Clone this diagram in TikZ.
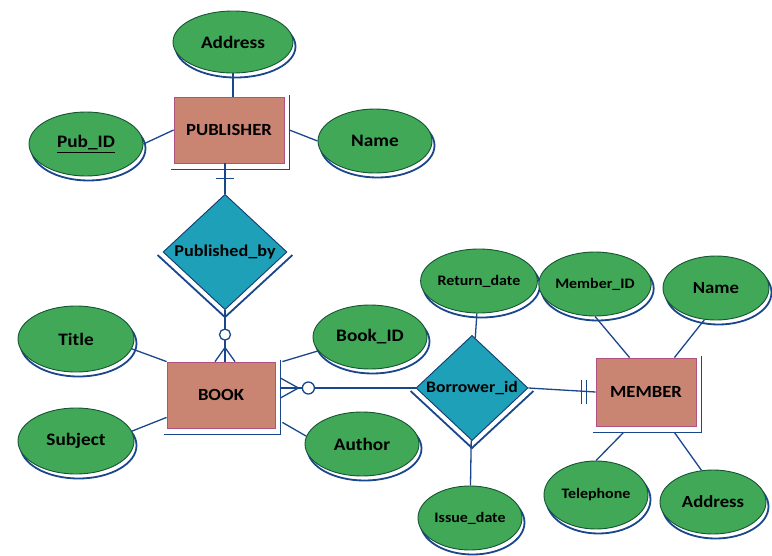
\documentclass[tikz,border=0pt]{standalone}
\usepackage{fontspec}
\setmainfont{Carlito}[FakeStretch=1.1]
\usepackage{xcolor}
\usetikzlibrary{shapes.geometric, calc}

\definecolor{attrgreen}{RGB}{64,168,86}
\definecolor{attrline}{RGB}{22,84,52}
\definecolor{entfill}{RGB}{201,132,114}
\definecolor{entline}{RGB}{176,82,128}
\definecolor{relfill}{RGB}{30,160,184}
\definecolor{linkblue}{RGB}{26,70,140}

\begin{document}
\begin{tikzpicture}[
    x=1pt, y=-1pt,
    link/.style={draw=linkblue, line width=1.3pt},
    shadowline/.style={draw=linkblue, line width=1.8pt},
    attr/.style={ellipse, draw=attrline, line width=0.9pt, fill=attrgreen, inner sep=0pt,
        minimum width=114pt, minimum height=64pt, font=\bfseries\fontsize{17.5}{17.5}\selectfont,
        preaction={draw=linkblue, line width=1.8pt, fill=white, transform canvas={shift={(2.5pt,-4.5pt)}}}},
    small/.style={minimum width=104pt, font=\bfseries\fontsize{14.5}{14.5}\selectfont},
    entity/.style={rectangle, draw=entline, line width=0.8pt, fill=entfill, inner sep=0pt,
        font=\bfseries\fontsize{17}{17}\selectfont},
    rel/.style={diamond, draw=linkblue!80!black, line width=0.9pt, fill=relfill, inner sep=0pt,
        font=\bfseries\fontsize{16}{16}\selectfont}
]
    \useasboundingbox (0,0) rectangle (772,555);

    % Publisher side
    \node[entity, minimum width=110pt, minimum height=66pt] (pub) at (229,130) {PUBLISHER};
    \node[attr, minimum width=120pt, minimum height=62pt] (addr) at (233,42) {Address};
    \node[attr] (pubid) at (86,144) {\underline{Pub\_ID}};
    \node[attr] (pname) at (375,141) {Name};
    \node[rel, minimum width=124pt, minimum height=100pt, font=\bfseries\fontsize{16.5}{16.5}\selectfont] (pubby) at (225,252) {Published\_by};

    % Book side
    \node[entity, minimum width=108pt, minimum height=66pt] (book) at (221,395) {BOOK};
    \node[attr, minimum width=116pt, minimum height=66pt] (title) at (76,339) {Title};
    \node[attr, minimum width=116pt, minimum height=66pt] (subject) at (76,441) {Subject};
    \node[attr] (bookid) at (370,337) {Book\_ID};
    \node[attr] (author) at (362,444) {Author};
    \node[rel, minimum width=112pt, minimum height=92pt] (borrow) at (472,388) {Borrower\_id};

    % Member side
    \node[entity, minimum width=100pt, minimum height=68pt] (member) at (646,392) {MEMBER};
    \node[attr, small] (retdate) at (479,281) {Return\_date};
    \node[attr, small] (memid) at (595,284) {Member\_ID};
    \node[attr, small, minimum width=106pt, font=\bfseries\fontsize{17}{17}\selectfont] (mname) at (716,288) {Name};
    \node[attr, small] (issue) at (470,518) {Issue\_date};
    \node[attr, small, minimum height=68pt] (tel) at (596,495) {Telephone};
    \node[attr, small, minimum width=106pt, font=\bfseries\fontsize{17}{17}\selectfont] (maddr) at (713,502) {Address};

    % shadows of entities and relationships
    \foreach \e in {pub, book, member}
        \draw[shadowline] ($(\e.north east)+(5,-2)$) -- ($(\e.south east)+(5,6)$) -- ($(\e.south west)+(-3,6)$);
    \foreach \r in {pubby, borrow}
        \draw[shadowline] ($(\r.west)+(-5,3)$) -- ($(\r.south)+(0,7)$) -- ($(\r.east)+(5,3)$);

    % Attribute links
    \draw[link] (addr.south) -- (addr.south |- pub.north);
    \draw[link] (pubid.east) -- (pub.west);
    \draw[link] ($(pub.east)+(5,0)$) -- (pname.west);
    \draw[link] (title.-10) -- (book.north west);
    \draw[link] (subject.10) -- ($(book.south west)+(0,-11)$);
    \draw[link] ($(book.north east)+(7,0)$) -- (bookid.195);
    \draw[link] ($(book.south east)+(7,-6)$) -- (author.172);
    \draw[link] (retdate) -- (borrow);
    \draw[link] (borrow) -- (issue);
    \draw[link] (memid.south) -- ($(member.north west)+(34,0)$);
    \draw[link] (mname.250) -- ($(member.north east)+(-22,0)$);
    \draw[link] ($(member.south west)+(28,6)$) -- (tel.north);
    \draw[link] ($(member.south east)+(-22,6)$) -- (maddr.110);

    % Publisher -- Published_by (one)
    \draw[link] (pubby.north |- pub.south) -- (pubby.north);
    \draw[link] ($(pubby.north |- pub.south)+(-9,15)$) -- ++(18,0);

    % Published_by -- Book (zero or many)
    \draw[link] (pubby.south) -- (pubby.south |- book.north);
    \draw[link] ($(pubby.south |- book.north)+(-10,0)$) -- ($(pubby.south |- book.north)+(0,-14)$) -- ($(pubby.south |- book.north)+(10,0)$);
    \draw[link, fill=white] ($(pubby.south |- book.north)+(0,-27)$) circle (5.5pt);

    % Book -- Borrower_id (zero or many)
    \draw[link] (borrow.west -| book.east) ++(5,0) coordinate (bk) -- (borrow.west);
    \draw[link] ($(bk)+(0,-10)$) -- ($(bk)+(18,0)$) -- ($(bk)+(0,10)$);
    \draw[link, fill=white] ($(bk)+(28,0)$) circle (6pt);

    % Borrower_id -- Member (one and only one)
    \draw[link] (borrow.east) -- (member.west);
    \draw[link] ($(member.west)+(-14,-12)$) -- ++(0,24);
    \draw[link] ($(member.west)+(-9,-12)$) -- ++(0,24);
\end{tikzpicture}
\end{document}
